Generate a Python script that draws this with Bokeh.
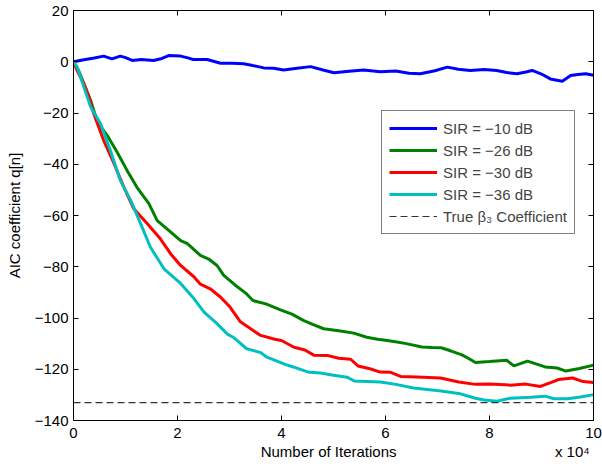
from bokeh.plotting import figure
from bokeh.models import (LinearAxis, Range1d, Legend, LegendItem,
                          CustomJSTickFormatter, FixedTicker)
from bokeh.embed import file_html
from bokeh.resources import INLINE

# ---------------- data (iterations in units of 1e4, values of q[n]) -------------
blue_x = [0, 0.2, 0.4, 0.58, 0.74, 0.90, 1.0, 1.13, 1.3, 1.54, 1.7, 1.83, 2.06, 2.2, 2.30,
          2.57, 2.83, 3.05, 3.27, 3.45, 3.66, 3.85, 4.04, 4.3, 4.56, 4.8, 5.01, 5.3, 5.58,
          5.9, 6.2, 6.45, 6.67, 6.95, 7.19, 7.4, 7.63, 7.9, 8.14, 8.33, 8.53, 8.7, 8.82,
          9.0, 9.17, 9.40, 9.56, 9.7, 9.85, 10]
blue_y = [0, 0.8, 1.5, 2.2, 1.1, 2.2, 1.6, 0.5, 0.9, 0.5, 1.3, 2.4, 2.2, 1.5, 0.9,
          0.9, -0.6, -0.6, -0.8, -1.5, -2.4, -2.5, -3.2, -2.5, -1.9, -3.2, -4.3, -3.7, -3.2,
          -3.9, -3.6, -4.5, -4.7, -3.5, -2.1, -2.9, -3.4, -3.0, -3.4, -4.2, -4.7, -4.0, -3.4,
          -4.8, -6.7, -7.6, -5.4, -5.0, -4.7, -5.3]

green_x = [0, 0.1, 0.20, 0.33, 0.46, 0.65, 0.84, 1.03, 1.22, 1.45, 1.61, 1.87, 2.06, 2.19,
           2.44, 2.6, 2.76, 2.89, 3.1, 3.33, 3.45, 3.7, 3.98, 4.2, 4.43, 4.6, 4.81, 5.1,
           5.39, 5.64, 5.85, 6.0, 6.22, 6.4, 6.7, 6.9, 7.07, 7.25, 7.47, 7.6, 7.73, 8.0,
           8.33, 8.47, 8.73, 9.07, 9.3, 9.47, 9.73, 10]
green_y = [0, -3.5, -8.6, -15.1, -23.6, -28.8, -35.3, -42.4, -49, -55.4, -62, -66.5, -69.8, -71,
           -75.6, -77, -79.5, -83.4, -87, -90.6, -93.2, -94.5, -96.8, -98.5, -101, -102.5, -104.2, -105,
           -105.9, -107.5, -108.3, -108.7, -109.4, -110, -111.3, -111.5, -111.6, -112.8, -114.4, -115.8, -117.4, -117,
           -116.5, -118.7, -116.8, -119.1, -119.5, -120.7, -119.7, -118.4]

red_x = [0, 0.07, 0.2, 0.3, 0.39, 0.58, 0.78, 0.97, 1.16, 1.42, 1.67, 1.87, 2.06, 2.32, 2.44,
         2.63, 2.83, 3.0, 3.21, 3.47, 3.6, 3.87, 4.0, 4.24, 4.45, 4.62, 4.88, 5.1, 5.33, 5.47,
         5.7, 5.9, 6.1, 6.29, 6.6, 7.06, 7.41, 7.73, 8.0, 8.4, 8.7, 8.98, 9.2, 9.33, 9.6,
         9.8, 10]
red_y = [0, -3.4, -8.6, -14, -20.3, -30.7, -39.8, -49, -57.4, -63.2, -69.1, -75, -79.5, -84, -86.8,
         -88.6, -91.9, -95.5, -101.5, -105.1, -106.8, -108.3, -108.8, -111.4, -112.5, -114.5, -114.6, -115.7, -116.1, -118.7,
         -119.8, -121.1, -121.2, -122.8, -123, -123.4, -125, -125.9, -125.8, -126.2, -125.8, -126.7, -125, -124, -123.4,
         -124.8, -125.2]

cyan_x = [0, 0.07, 0.2, 0.33, 0.52, 0.71, 0.9, 1.1, 1.29, 1.48, 1.74, 2.06, 2.32, 2.51, 2.75,
          2.96, 3.07, 3.33, 3.6, 3.72, 4.07, 4.24, 4.53, 4.75, 5.0, 5.26, 5.4, 5.9, 6.2, 6.54,
          7.07, 7.44, 7.73, 7.9, 8.14, 8.4, 8.79, 9.07, 9.24, 9.5, 9.75, 10]
cyan_y = [0, -2, -9.9, -17.7, -24.2, -34.6, -46.3, -54.1, -63.2, -72.4, -80.8, -86.5, -92.5, -97.7, -102,
          -106.3, -107.5, -112, -113.5, -115.3, -118.1, -119.2, -121.2, -121.5, -122.3, -123.1, -124.6, -125, -125.9, -127.3,
          -128.5, -129.6, -131.3, -132, -132.5, -131.3, -130.9, -130.5, -131.5, -131.5, -130.8, -129.9]

true_beta3 = -133

labels = ["SIR = \u221210 dB", "SIR = \u221226 dB", "SIR = \u221230 dB", "SIR = \u221236 dB",
          "True \u03b2\u2083 Coefficient"]
x_ticks = [0, 2, 4, 6, 8, 10]
y_ticks = [-140, -120, -100, -80, -60, -40, -20, 0, 20]
SCALE = 1e4
x_title = "Number of Iterations"
x_exponent = "x 10\u2074"
y_title = "AIC coefficient q[n]"

FONT = "Liberation Sans"
NBSP = "\u00a0"

def it(xs):
    return [v * SCALE for v in xs]

p = figure(width=602, height=468, output_backend="svg", toolbar_location=None,
           x_range=Range1d(0, 10 * SCALE), y_range=Range1d(-140, 20),
           min_border_left=73, min_border_right=9, min_border_top=10, min_border_bottom=48,
           background_fill_color="white", border_fill_color="white")
p.xgrid.visible = False
p.ygrid.visible = False
p.outline_line_color = "black"

r_blue = p.line(it(blue_x), blue_y, line_color="#0000FF", line_width=3)
r_green = p.line(it(green_x), green_y, line_color="#008000", line_width=3)
r_red = p.line(it(red_x), red_y, line_color="#FF0000", line_width=3)
r_cyan = p.line(it(cyan_x), cyan_y, line_color="#00BFBF", line_width=3)
r_true = p.line([it(blue_x)[0], it(blue_x)[-1]], [true_beta3, true_beta3],
                line_color="#333333", line_width=1.2, line_dash="7 4")

minus_fmt = CustomJSTickFormatter(code="var s = '' + tick; return s.replace('-', '\\u2212');")
x_fmt = CustomJSTickFormatter(code="return '' + Math.round(tick / 10000);")
blank_fmt = CustomJSTickFormatter(code="return '';")

def style(ax):
    ax.axis_line_color = "black"
    ax.axis_line_width = 1
    ax.major_tick_line_color = "black"
    ax.major_tick_in = 5
    ax.major_tick_out = 0
    ax.minor_tick_line_color = None
    ax.major_label_text_font = FONT
    ax.major_label_text_font_size = "15px"
    ax.major_label_text_color = "black"
    ax.axis_label_text_font = FONT
    ax.axis_label_text_font_size = "15px"
    ax.axis_label_text_font_style = "normal"
    ax.axis_label_text_color = "black"

xt = FixedTicker(ticks=[v * SCALE for v in x_ticks])
yt = FixedTicker(ticks=y_ticks)

xa = p.xaxis[0]
xa.ticker = xt
xa.formatter = x_fmt
# axis title centred under the frame, exponent note pushed to the right end
xa.axis_label = NBSP * 44 + x_title + NBSP * 38 + x_exponent
xa.major_label_standoff = 7
xa.axis_label_standoff = 2
style(xa)

ya = p.yaxis[0]
ya.ticker = yt
ya.formatter = minus_fmt
ya.axis_label = y_title
ya.major_label_standoff = 5
ya.axis_label_standoff = 9
style(ya)

top = LinearAxis(ticker=xt, formatter=blank_fmt, major_label_standoff=0)
style(top)
right = LinearAxis(ticker=yt, formatter=blank_fmt, major_label_standoff=0)
style(right)
p.add_layout(top, "above")
p.add_layout(right, "right")

legend = Legend(items=[LegendItem(label=labels[0], renderers=[r_blue]),
                       LegendItem(label=labels[1], renderers=[r_green]),
                       LegendItem(label=labels[2], renderers=[r_red]),
                       LegendItem(label=labels[3], renderers=[r_cyan]),
                       LegendItem(label=labels[4], renderers=[r_true])],
                location=(308, 186), margin=0, padding=7, spacing=2,
                glyph_width=48, glyph_height=20, label_height=20, label_standoff=6,
                label_text_font=FONT, label_text_font_size="15px",
                border_line_color="black", border_line_width=1,
                background_fill_color="white", background_fill_alpha=1)
p.add_layout(legend)

open("out.html", "w", encoding="utf-8").write(file_html(p, INLINE))
